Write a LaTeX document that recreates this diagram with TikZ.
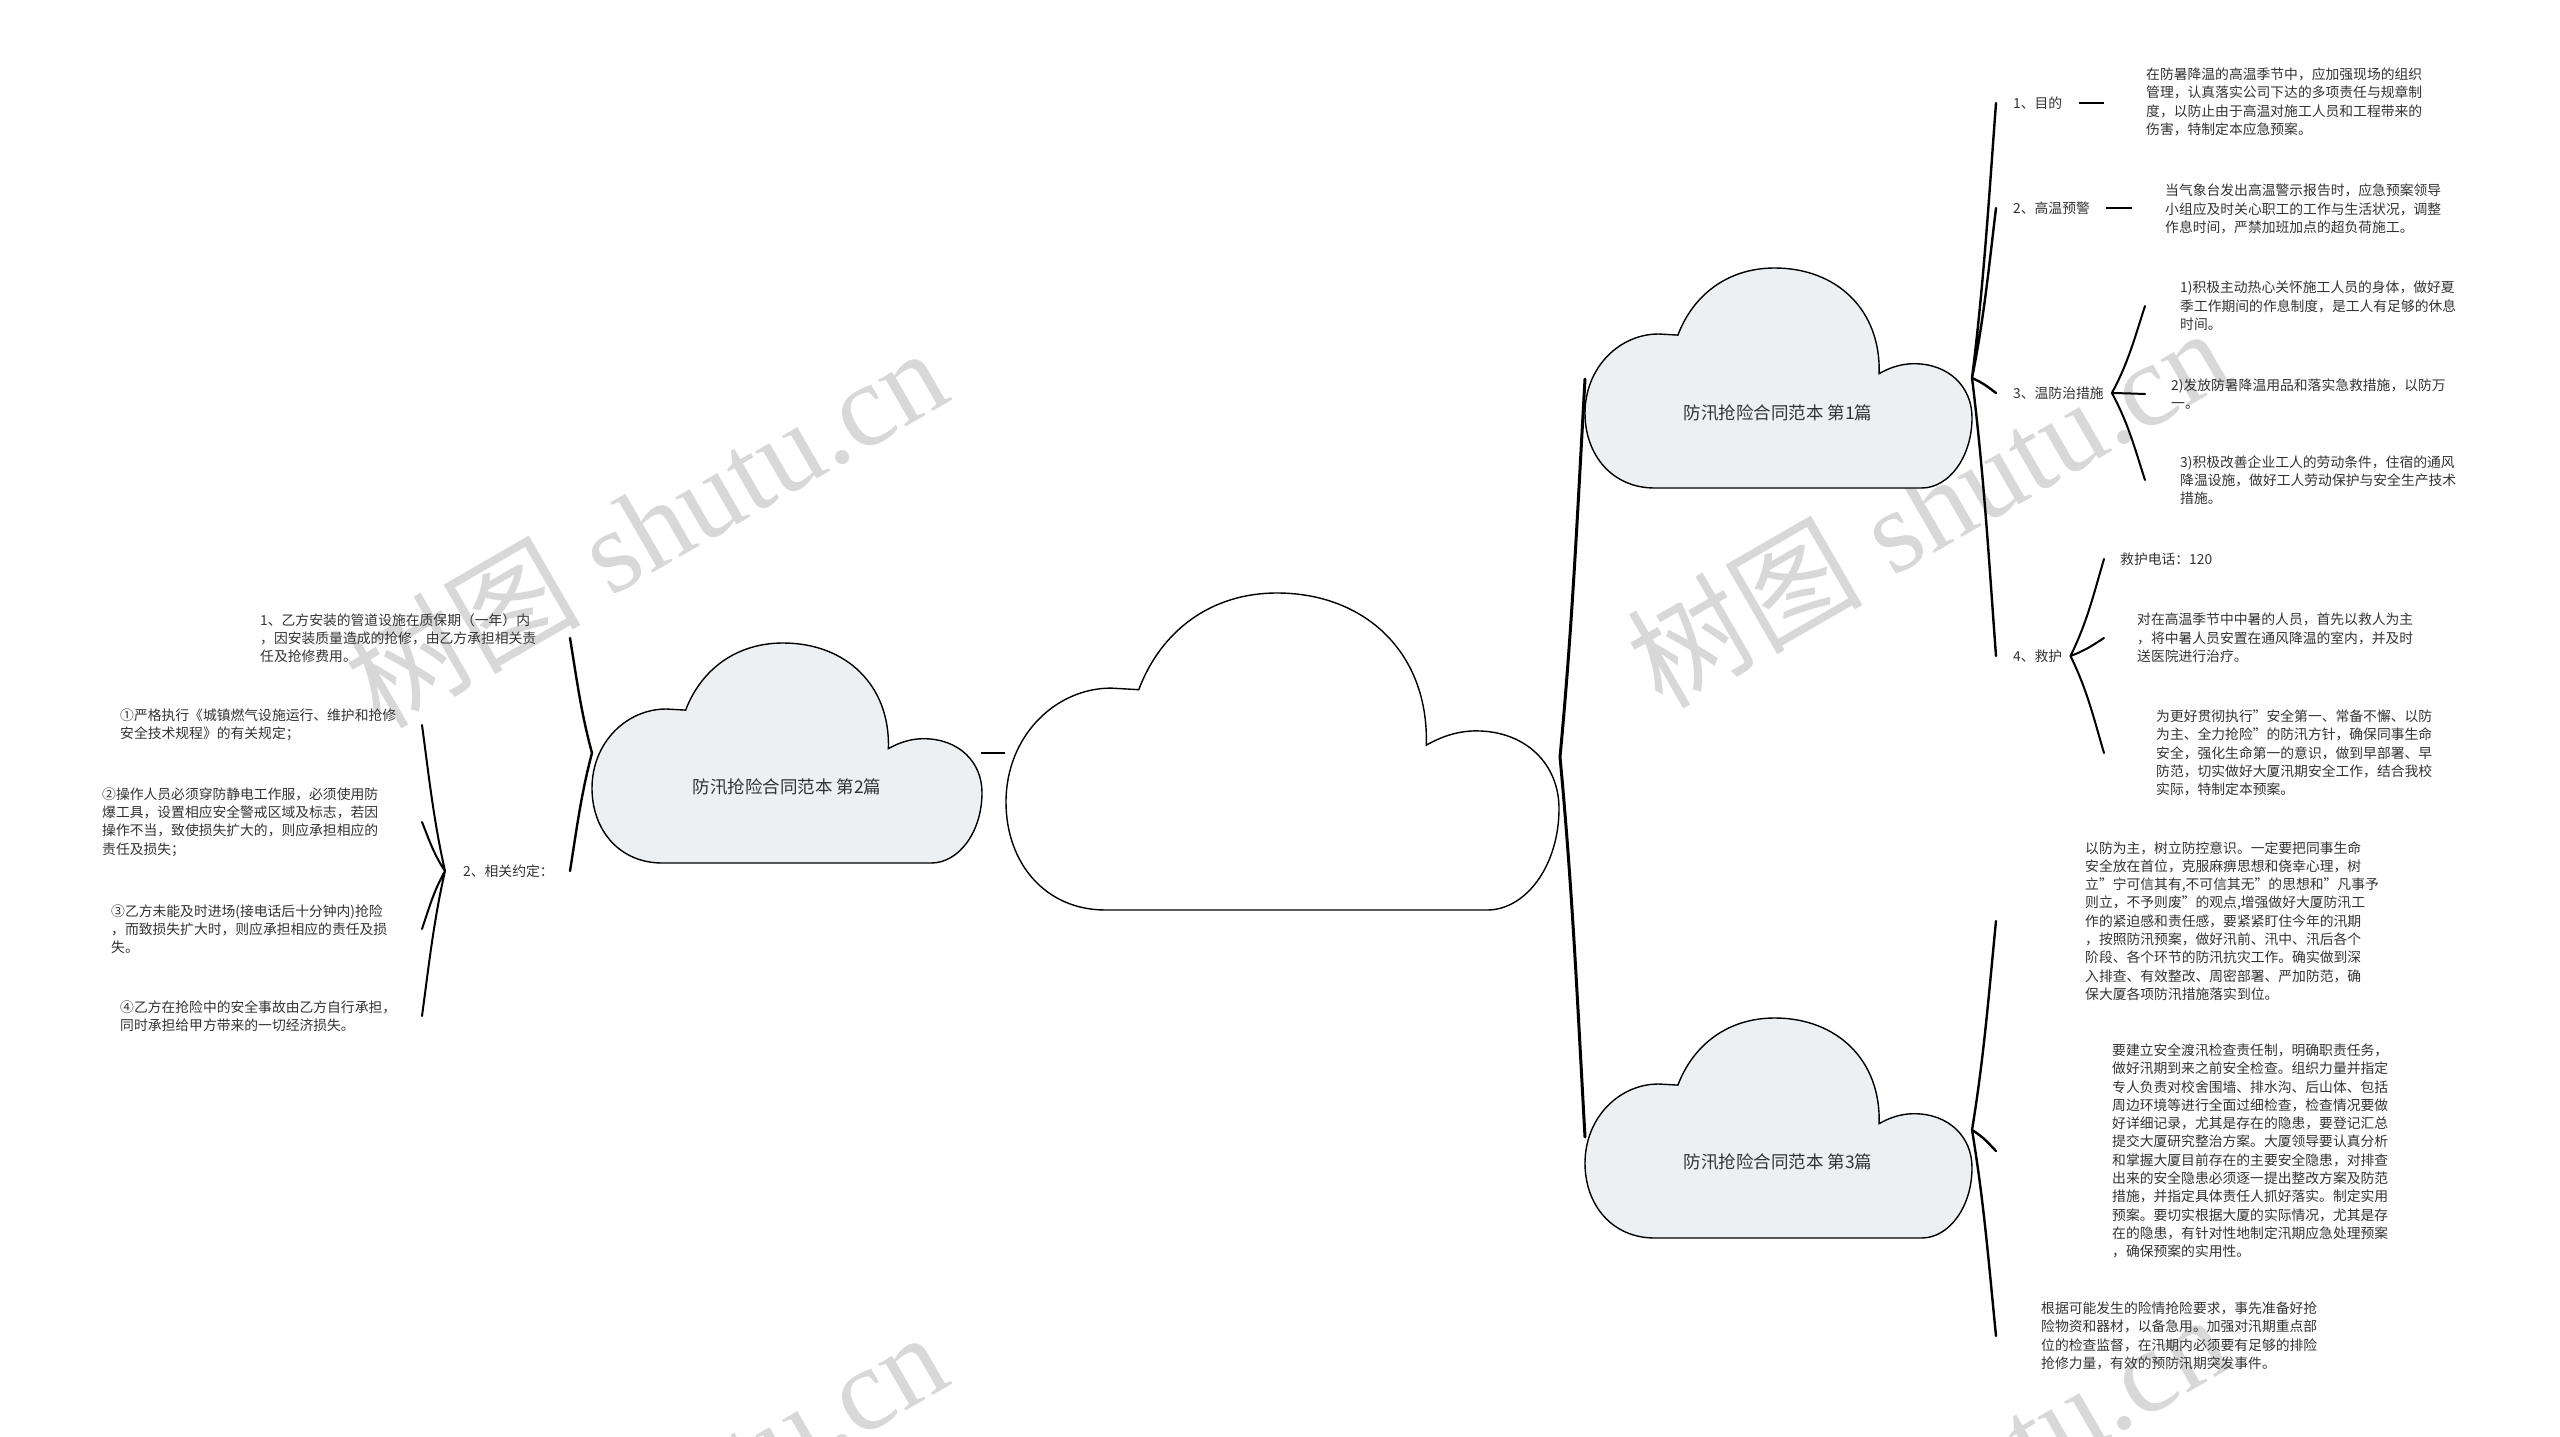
\documentclass[tikz,border=0pt]{standalone}
\usepackage{fontspec}
\setmainfont{Noto Sans CJK SC}
\newfontfamily\wmserif{Liberation Serif}
\usetikzlibrary{calc}
\definecolor{cloudfill}{RGB}{237,240,243}
\definecolor{inkgray}{RGB}{51,51,51}
\definecolor{wmgray}{RGB}{216,216,216}
\tikzset{
    cloudpic/.pic={
        \draw[line width=1.4pt, fill=#1] (0.18,1) .. controls (0.07,1) and (0,0.85) .. (0,0.66)
            .. controls (0,0.45) and (0.09,0.30) .. (0.19,0.30) -- (0.24,0.305)
            .. controls (0.28,0.12) and (0.37,0) .. (0.49,0)
            .. controls (0.65,0) and (0.765,0.19) .. (0.76,0.48)
            .. controls (0.79,0.45) and (0.82,0.435) .. (0.85,0.435)
            .. controls (0.94,0.435) and (1,0.54) .. (1,0.68)
            .. controls (1,0.86) and (0.94,1) .. (0.87,1) -- cycle;
    },
    bracelink/.style={line width=#1, line cap=round, to path={let \p1=(\tikztostart), \p2=(\tikztotarget) in
        .. controls ({\x1+0.5*(\x2-\x1)},{\y1+0.35*(\y2-\y1)}) and ({\x2-0.3*(\x2-\x1)},{\y2-0.35*(\y2-\y1)}) .. (\tikztotarget)}},
    bracelink/.default=2.4pt,
    txt/.style={inner sep=0pt, anchor=west, align=left, text=inkgray, font=\fontsize{13.8}{18.3}\selectfont},
    cloudtxt/.style={inner sep=0pt, text=inkgray, font=\fontsize{17.5}{20}\selectfont},
    wmark/.style={inner sep=0pt, rotate=30, text=wmgray, font=\fontsize{118}{118}\selectfont},
}
\begin{document}
\begin{tikzpicture}[x=1pt, y=-1pt]
            \useasboundingbox (0,0) rectangle (2560,1437);
            \fill[white] (0,0) rectangle (2560,1437);
            \node[wmark] (wm1) at (645,526) {树图\wmserif{} shutu.cn};
            \node[wmark] (wm2) at (1927,506) {树图\wmserif{} shutu.cn};
            \node[wmark] (wm3) at (645,1510) {树图\wmserif{} shutu.cn};
            \node[wmark] (wm4) at (1927,1492) {树图\wmserif{} shutu.cn};
            \pic[xscale=390, yscale=220] at (592,643) {cloudpic=cloudfill};
            \pic[xscale=553, yscale=317] at (1006,593) {cloudpic=white};
            \pic[xscale=387, yscale=220] at (1585,268) {cloudpic=cloudfill};
            \pic[xscale=387, yscale=220] at (1585,1018) {cloudpic=cloudfill};
            \node[cloudtxt] (c1) at (1778,413) {防汛抢险合同范本 第1篇};
            \node[cloudtxt] (c2) at (787,787) {防汛抢险合同范本 第2篇};
            \node[cloudtxt] (c3) at (1778,1162) {防汛抢险合同范本 第3篇};
            \coordinate (c2r) at (981,753);
            \coordinate (rootl) at (1005,753);
            \coordinate (rootr) at (1560,757);
            \coordinate (c1l) at (1585,379);
            \coordinate (c3l) at (1585,1137);
            \coordinate (c2l) at (592,753);
            \coordinate (c1r) at (1972,378);
            \coordinate (c3r) at (1972,1130);
            \draw[line width=2.6pt] (c2r) -- (rootl);
            \draw[bracelink=3pt] (rootr) to (c1l) (rootr) to (c3l);
            \node[txt] (t11) at (2013,103) {1、目的};
            \node[txt] (d11) at (2146,102) {在防暑降温的高温季节中，应加强现场的组织\\管理，认真落实公司下达的多项责任与规章制\\度，以防止由于高温对施工人员和工程带来的\\伤害，特制定本应急预案。};
            \node[txt] (t12) at (2013,208) {2、高温预警};
            \node[txt] (d12) at (2165,209) {当气象台发出高温警示报告时，应急预案领导\\小组应及时关心职工的工作与生活状况，调整\\作息时间，严禁加班加点的超负荷施工。};
            \node[txt] (t13) at (2013,393) {3、温防治措施};
            \node[txt] (d131) at (2180,306) {1)积极主动热心关怀施工人员的身体，做好夏\\季工作期间的作息制度，是工人有足够的休息\\时间。};
            \node[txt] (d132) at (2171,394) {2)发放防暑降温用品和落实急救措施，以防万\\一。};
            \node[txt] (d133) at (2180,480) {3)积极改善企业工人的劳动条件，住宿的通风\\降温设施，做好工人劳动保护与安全生产技术\\措施。};
            \node[txt] (t14) at (2013,656) {4、救护};
            \node[txt] (d141) at (2120,559) {救护电话：120};
            \node[txt] (d142) at (2137,638) {对在高温季节中中暑的人员，首先以救人为主\\，将中暑人员安置在通风降温的室内，并及时\\送医院进行治疗。};
            \node[txt] (d143) at (2156,753) {为更好贯彻执行"安全第一、常备不懈、以防\\为主、全力抢险"的防汛方针，确保同事生命\\安全，强化生命第一的意识，做到早部署、早\\防范，切实做好大厦汛期安全工作，结合我校\\实际，特制定本预案。};
            \node[txt] (d31) at (2085,921) {以防为主，树立防控意识。一定要把同事生命\\安全放在首位，克服麻痹思想和侥幸心理，树\\立"宁可信其有,不可信其无"的思想和"凡事予\\则立，不予则废"的观点,增强做好大厦防汛工\\作的紧迫感和责任感，要紧紧盯住今年的汛期\\，按照防汛预案，做好汛前、汛中、汛后各个\\阶段、各个环节的防汛抗灾工作。确实做到深\\入排查、有效整改、周密部署、严加防范，确\\保大厦各项防汛措施落实到位。};
            \node[txt] (d32) at (2112,1151) {要建立安全渡汛检查责任制，明确职责任务，\\做好汛期到来之前安全检查。组织力量并指定\\专人负责对校舍围墙、排水沟、后山体、包括\\周边环境等进行全面过细检查，检查情况要做\\好详细记录，尤其是存在的隐患，要登记汇总\\提交大厦研究整治方案。大厦领导要认真分析\\和掌握大厦目前存在的主要安全隐患，对排查\\出来的安全隐患必须逐一提出整改方案及防范\\措施，并指定具体责任人抓好落实。制定实用\\预案。要切实根据大厦的实际情况，尤其是存\\在的隐患，有针对性地制定汛期应急处理预案\\，确保预案的实用性。};
            \node[txt] (d33) at (2041,1336) {根据可能发生的险情抢险要求，事先准备好抢\\险物资和器材，以备急用。加强对汛期重点部\\位的检查监督，在汛期内必须要有足够的排险\\抢修力量，有效的预防汛期突发事件。};
            \node[txt] (l1) at (260,638) {1、乙方安装的管道设施在质保期（一年）内\\，因安装质量造成的抢修，由乙方承担相关责\\任及抢修费用。};
            \node[txt] (l2) at (463,871) {2、相关约定：};
            \node[txt] (l21) at (120,725) {①严格执行《城镇燃气设施运行、维护和抢修\\安全技术规程》的有关规定；};
            \node[txt] (l22) at (102,822) {②操作人员必须穿防静电工作服，必须使用防\\爆工具，设置相应安全警戒区域及标志，若因\\操作不当，致使损失扩大的，则应承担相应的\\责任及损失；};
            \node[txt] (l23) at (111,929) {③乙方未能及时进场(接电话后十分钟内)抢险\\，而致损失扩大时，则应承担相应的责任及损\\失。};
            \node[txt] (l24) at (120,1016) {④乙方在抢险中的安全事故由乙方自行承担，\\同时承担给甲方带来的一切经济损失。};
            \draw[line width=2pt] ([xshift=17pt]t11.east) -- ([xshift=42pt]t11.east);
            \draw[line width=2pt] ([xshift=16pt]t12.east) -- ([xshift=42pt]t12.east);
            \draw[bracelink] (c1r) to ([xshift=-17pt]t11.west) (c1r) to ([xshift=-17pt]t12.west)
                (c1r) to ([xshift=-17pt]t13.west) (c1r) to ([xshift=-17pt]t14.west);
            \draw[bracelink=2pt] ([xshift=8pt]t13.east) to (2145,0 |- d131.west) ([xshift=8pt]t13.east) to (2145,0 |- d132.west)
                ([xshift=8pt]t13.east) to (2145,0 |- d133.west);
            \draw[bracelink=2pt] ([xshift=8pt]t14.east) to (2104,0 |- d141.west) ([xshift=8pt]t14.east) to (2104,0 |- d142.west)
                ([xshift=8pt]t14.east) to (2104,0 |- d143.west);
            \draw[bracelink] (c3r) to (1996,0 |- d31.west) (c3r) to (1996,0 |- d32.west) (c3r) to (1996,0 |- d33.west);
            \draw[bracelink] (c2l) to (570,0 |- l1.west) (c2l) to (570,0 |- l2.west);
            \draw[bracelink=2pt] ([xshift=-18pt]l2.west) to (422,0 |- l21.west) ([xshift=-18pt]l2.west) to (422,0 |- l22.west)
                ([xshift=-18pt]l2.west) to (422,0 |- l23.west) ([xshift=-18pt]l2.west) to (422,0 |- l24.west);
        \end{tikzpicture}
\end{document}
